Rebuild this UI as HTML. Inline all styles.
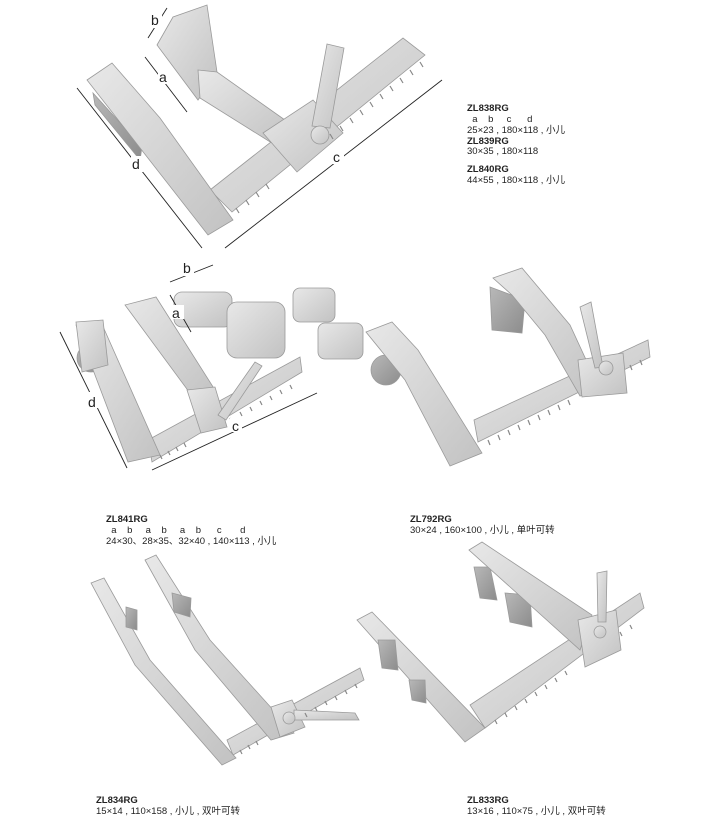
<!DOCTYPE html>
<html><head><meta charset="utf-8"><style>
body{margin:0;background:#fff;width:704px;height:825px;overflow:hidden;position:relative;font-family:"Liberation Sans","Noto Sans CJK SC",sans-serif;}
.t{position:absolute;font-size:9.5px;color:#222;line-height:11px;white-space:pre;}
.b{font-weight:bold;}
svg{position:absolute;left:0;top:0;}
</style></head><body>
<svg width="704" height="825" viewBox="0 0 704 825">
<defs>
<linearGradient id="g" x1="0" y1="0" x2="1" y2="1"><stop offset="0" stop-color="#e8e8e8"/><stop offset="1" stop-color="#c2c2c2"/></linearGradient>
<linearGradient id="d" x1="0" y1="0" x2="1" y2="1"><stop offset="0" stop-color="#b8b8b8"/><stop offset="1" stop-color="#8c8c8c"/></linearGradient>
</defs>
<g fill="url(#g)" stroke="#9a9a9a" stroke-width="0.8">
<!-- TOP -->
<polygon points="210,190 403,38 425,55 232,212"/>
<polygon points="93,93 142,147 140,160 95,105" fill="url(#d)"/>
<polygon points="87,80 112,63 160,118 233,220 208,235"/>
<polygon points="157,45 173,17 207,5 217,72 198,100"/>
<polygon points="198,70 217,72 292,125 275,145 200,98"/>
<polygon points="263,133 313,100 343,133 297,172"/>
<polygon points="327,44 344,48 330,128 312,126"/>
<circle cx="320" cy="135" r="9"/>
<!-- MIDDLE LEFT -->
<polygon points="148,440 300,357 302,372 152,462"/>
<circle cx="91" cy="358" r="14" fill="url(#d)"/>
<polygon points="76,325 101,322 160,455 128,462"/>
<polygon points="76,322 103,320 108,365 82,372"/>
<polygon points="125,305 156,297 215,390 195,400"/>
<polygon points="187,390 215,387 227,427 201,433"/>
<polygon points="218,415 255,362 262,366 226,420"/>
<rect x="174" y="292" width="58" height="35" rx="8"/>
<rect x="227" y="302" width="58" height="56" rx="10"/>
<rect x="293" y="288" width="42" height="34" rx="7"/>
<rect x="318" y="323" width="45" height="36" rx="7"/>
<!-- MIDDLE RIGHT -->
<polygon points="474,420 648,340 650,357 478,442"/>
<circle cx="386" cy="370" r="15" fill="url(#d)"/>
<polygon points="366,332 392,322 418,350 482,453 450,466 405,380"/>
<polygon points="490,287 525,300 522,333 492,330" fill="url(#d)"/>
<polygon points="493,278 522,268 570,325 600,390 580,396 545,335 512,295"/>
<polygon points="578,360 623,353 627,393 582,397"/>
<polygon points="580,307 591,302 603,367 595,368"/>
<circle cx="606" cy="368" r="7"/>
<!-- BOTTOM LEFT -->
<polygon points="227,740 360,668 364,680 233,755"/>
<polygon points="91,583 104,578 150,660 236,758 222,765 135,665"/>
<polygon points="145,560 156,555 210,640 294,733 271,740 195,650"/>
<polygon points="126,607 137,610 137,630 126,627" fill="url(#d)"/>
<polygon points="172,593 191,598 190,617 174,612" fill="url(#d)"/>
<polygon points="271,707 292,700 305,727 280,737"/>
<polygon points="294,710 355,713 359,720 294,720"/>
<circle cx="289" cy="718" r="6"/>
<!-- BOTTOM RIGHT -->
<polygon points="470,705 640,593 644,608 485,728"/>
<polygon points="357,620 372,612 485,728 465,742"/>
<polygon points="474,567 490,567 497,600 480,598" fill="url(#d)"/>
<polygon points="505,593 530,595 532,627 510,622" fill="url(#d)"/>
<polygon points="378,640 395,640 398,670 382,668" fill="url(#d)"/>
<polygon points="409,680 425,680 426,703 412,700" fill="url(#d)"/>
<polygon points="469,550 482,542 592,615 580,650"/>
<polygon points="578,620 616,610 621,650 585,667"/>
<polygon points="597,573 607,571 606,622 598,622"/>
<circle cx="600" cy="632" r="6"/>
</g>
<!-- teeth -->
<g stroke="#888" stroke-width="1.2">
<path d="M236,208 l3,5 M246,200 l3,5 M256,192 l3,5 M266,184 l3,5 M330,134 l3,5 M340,126 l3,5 M350,118 l3,5 M360,110 l3,5 M370,102 l3,5 M380,94 l3,5 M390,86 l3,5 M400,78 l3,5 M410,70 l3,5 M420,62 l3,5"/>
<path d="M160,455 l2,4 M168,451 l2,4 M176,447 l2,4 M184,443 l2,4 M230,418 l2,4 M240,412 l2,4 M250,407 l2,4 M260,401 l2,4 M270,396 l2,4 M280,390 l2,4 M290,385 l2,4"/>
<path d="M488,440 l2,5 M498,435 l2,5 M508,430 l2,5 M518,425 l2,5 M528,420 l2,5 M538,415 l2,5 M548,410 l2,5 M558,405 l2,5 M568,400 l2,5 M630,365 l2,5 M640,360 l2,5"/>
<path d="M240,750 l2,4 M248,745 l2,4 M256,741 l2,4 M305,713 l2,4 M315,707 l2,4 M325,701 l2,4 M335,696 l2,4 M345,690 l2,4 M355,684 l2,4"/>
<path d="M495,720 l2,4 M505,713 l2,4 M515,706 l2,4 M525,699 l2,4 M535,692 l2,4 M545,685 l2,4 M555,678 l2,4 M565,671 l2,4 M620,632 l2,4 M630,625 l2,4"/>
</g>
<!-- dimension lines -->
<g stroke="#222" stroke-width="0.9" fill="none">
<line x1="77" y1="88" x2="202" y2="248"/>
<line x1="225" y1="248" x2="442" y2="80"/>
<line x1="145" y1="57" x2="187" y2="112"/>
<line x1="148" y1="38" x2="167" y2="8"/>
<line x1="60" y1="332" x2="127" y2="468"/>
<line x1="152" y1="470" x2="317" y2="393"/>
<line x1="170" y1="282" x2="213" y2="265"/>
<line x1="170" y1="295" x2="191" y2="332"/>
</g>
<g fill="#fff"><rect x="150" y="14" width="12" height="14"/><rect x="158" y="70" width="12" height="14"/><rect x="131" y="156" width="12" height="16"/><rect x="332" y="150" width="12" height="14"/>
<rect x="182" y="262" width="12" height="14"/><rect x="172" y="305" width="12" height="14"/><rect x="88" y="392" width="12" height="16"/><rect x="230" y="418" width="12" height="14"/></g>
<g fill="#222" font-family="Liberation Sans,sans-serif" font-size="14">
<text x="151" y="25">b</text><text x="159" y="82">a</text><text x="132" y="169">d</text><text x="333" y="162">c</text>
<text x="183" y="273">b</text><text x="172" y="318">a</text><text x="88" y="407">d</text><text x="232" y="431">c</text>
</g>
</svg>
<div class="t" style="left:467px;top:103px"><span class="b">ZL838RG</span>
  a    b     c      d
25×23 , 180×118 , 小儿
<span class="b">ZL839RG</span></div>
<div class="t" style="left:467px;top:146px">30×35 , 180×118</div>
<div class="t" style="left:467px;top:164px"><span class="b">ZL840RG</span>
44×55 , 180×118 , 小儿</div>
<div class="t" style="left:106px;top:514px"><span class="b">ZL841RG</span>
  a    b     a    b     a    b      c       d
24×30、28×35、32×40 , 140×113 , 小儿</div>
<div class="t" style="left:410px;top:514px"><span class="b">ZL792RG</span>
30×24 , 160×100 , 小儿 , 单叶可转</div>
<div class="t" style="left:96px;top:795px"><span class="b">ZL834RG</span>
15×14 , 110×158 , 小儿 , 双叶可转</div>
<div class="t" style="left:467px;top:795px"><span class="b">ZL833RG</span>
13×16 , 110×75 , 小儿 , 双叶可转</div>
</body></html>
